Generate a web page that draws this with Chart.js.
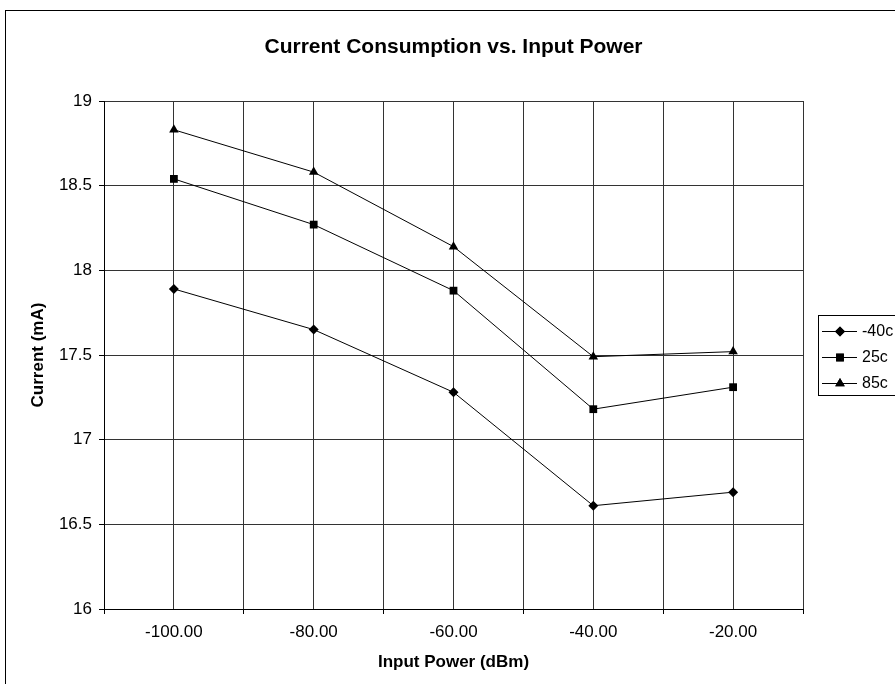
<!DOCTYPE html>
<html>
<head>
<meta charset="utf-8">
<script src="https://cdn.jsdelivr.net/npm/chart.js@4.4.1/dist/chart.umd.min.js"></script>
<style>
    html, body { margin: 0; padding: 0; background: #fff; }
    #wrap { width: 895px; height: 684px; }
</style>
</head>
<body>
<div id="wrap"><canvas id="chart" width="895" height="684"></canvas></div>
<script>
const inputPower = [-100, -80, -60, -40, -20];
const seriesNames = ['-40c', '25c', '85c'];
const currentM40 = [17.89, 17.65, 17.28, 16.61, 16.69];
const current25 = [18.54, 18.27, 17.88, 17.18, 17.31];
const current85 = [18.83, 18.58, 18.14, 17.49, 17.52];
const yTicks = [16, 16.5, 17, 17.5, 18, 18.5, 19];

const FONT = '"Liberation Sans", Arial, sans-serif';
const styles = ['rectRot', 'rect', 'triangle'];
const radii = [5, 5.5, 5.5];

const toPoints = (vals) => vals.map((v, i) => ({ x: inputPower[i], y: v }));

const makeSet = (name, vals, i) => ({
    label: name,
    data: toPoints(vals),
    borderColor: '#000',
    backgroundColor: '#000',
    borderWidth: 1,
    pointStyle: styles[i],
    pointRadius: radii[i],
    pointHoverRadius: radii[i],
    pointBorderWidth: 0,
    tension: 0
});

const decorPlugin = {
    id: 'decor',
    afterDraw(chart) {
        const ctx = chart.ctx;
        const area = chart.chartArea;
        const cx = (area.left + area.right) / 2;
        ctx.save();
        ctx.strokeStyle = '#000';
        ctx.lineWidth = 1;
        ctx.strokeRect(5.5, 10.5, 1200, 1200);

        ctx.fillStyle = '#000';
        ctx.textAlign = 'center';
        ctx.textBaseline = 'middle';
        ctx.font = 'bold 21px ' + FONT;
        ctx.fillText('Current Consumption vs. Input Power', cx, 47);

        ctx.font = 'bold 17px ' + FONT;
        ctx.fillText('Input Power (dBm)', cx, 662);
        ctx.save();
        ctx.translate(38, (area.top + area.bottom) / 2);
        ctx.rotate(-Math.PI / 2);
        ctx.fillText('Current (mA)', 0, 0);
        ctx.restore();

        // legend box, runs off the right edge like the original
        ctx.strokeStyle = '#000';
        ctx.strokeRect(818.5, 315.5, 200, 80);
        ctx.font = '16px ' + FONT;
        ctx.textAlign = 'left';
        chart.data.datasets.forEach((ds, i) => {
            const y = 331 + i * 26;
            ctx.beginPath();
            ctx.moveTo(822, y + 0.5);
            ctx.lineTo(857, y + 0.5);
            ctx.stroke();
            Chart.helpers.drawPoint(ctx, {
                pointStyle: ds.pointStyle, radius: ds.pointRadius, rotation: 0, borderWidth: 0
            }, 840, y + 0.5);
            ctx.fill();
            ctx.fillText(ds.label, 862, y + 1);
        });
        ctx.restore();
    }
};

new Chart(document.getElementById('chart'), {
    type: 'line',
    data: {
        datasets: [
            makeSet(seriesNames[0], currentM40, 0),
            makeSet(seriesNames[1], current25, 1),
            makeSet(seriesNames[2], current85, 2)
        ]
    },
    options: {
        responsive: false,
        animation: false,
        layout: { padding: { left: 0, top: 101, right: 92, bottom: 0 } },
        plugins: { legend: { display: false }, tooltip: { enabled: false } },
        scales: {
            x: {
                type: 'linear',
                min: -110,
                max: -10,
                afterFit: (s) => { s.height = 75; },
                ticks: {
                    stepSize: 10,
                    autoSkip: false,
                    maxRotation: 0,
                    padding: 8,
                    color: '#000',
                    font: { family: FONT, size: 17 },
                    callback: (v) => (v % 20 === 0 ? v.toFixed(2) : '')
                },
                grid: {
                    color: '#333',
                    lineWidth: 1,
                    tickLength: 5,
                    tickColor: (c) => (c.tick && c.tick.value % 20 === 0 ? 'rgba(0,0,0,0)' : '#000')
                },
                border: { color: '#000', width: 1 }
            },
            y: {
                min: yTicks[0],
                max: yTicks[yTicks.length - 1],
                afterFit: (s) => { s.width = 104; },
                ticks: {
                    stepSize: 0.5,
                    padding: 7,
                    color: '#000',
                    font: { family: FONT, size: 17 },
                    callback: (v) => String(Number(v.toFixed(1)))
                },
                grid: { color: '#333', lineWidth: 1, tickLength: 5, tickColor: '#000' },
                border: { color: '#000', width: 1 }
            }
        }
    },
    plugins: [decorPlugin]
});
</script>
</body>
</html>
